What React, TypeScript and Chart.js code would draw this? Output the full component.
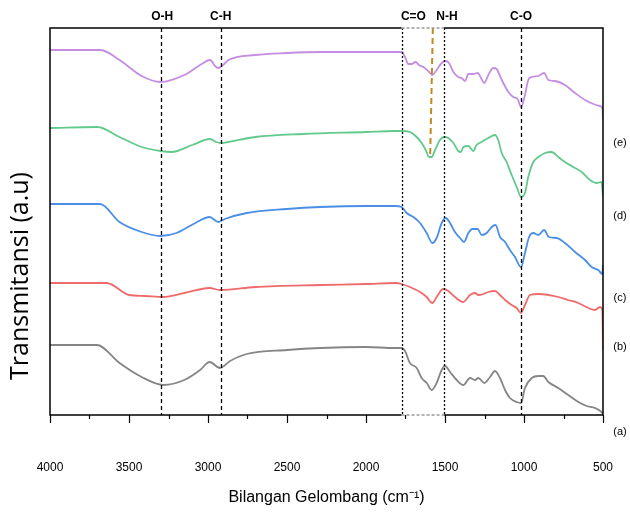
import React, { useEffect, useRef } from "react";
import { Chart, registerables } from "chart.js";

Chart.register(...registerables);

// ---- data (wavenumber cm^-1, transmittance a.u.) ----
const wnE = [4000, 3680, 3560, 3420, 3300, 3150, 3050, 2987, 2955, 2935, 2905, 2870, 2700, 2500, 2290, 2000, 1817, 1774, 1753, 1732, 1711, 1686, 1665, 1637, 1606, 1580, 1553, 1521, 1496, 1475, 1447, 1416, 1395, 1373, 1352, 1321, 1293, 1272, 1251, 1226, 1194, 1173, 1152, 1131, 1099, 1068, 1040, 1019, 994, 973, 951, 909, 873, 846, 804, 741, 677, 614, 561, 519, 504, 500];
const tE = [365, 365, 355, 339, 333, 340, 350, 355, 349, 347, 350, 355, 360, 362, 363, 363, 363, 363, 358, 351, 351, 353, 350, 348, 344, 340, 345, 352, 354, 352, 343, 338, 337, 334, 341, 341, 342, 337, 332, 340, 347, 346, 339, 332, 323, 318, 316, 308, 320, 335, 338, 339, 342, 335, 334, 330, 322, 315, 311, 309, 307, 295];

const wnD = [4000, 3700, 3560, 3420, 3300, 3230, 3100, 2987, 2950, 2913, 2873, 2700, 2400, 2000, 1817, 1774, 1722, 1679, 1648, 1622, 1601, 1584, 1563, 1532, 1504, 1479, 1447, 1416, 1399, 1384, 1352, 1321, 1300, 1268, 1226, 1184, 1163, 1141, 1110, 1078, 1046, 1019, 994, 973, 941, 909, 867, 825, 783, 741, 688, 635, 582, 540, 509, 500];
const tD = [287, 288, 278, 268, 264, 263, 270, 276, 273, 272, 273, 278, 281, 283, 284, 284, 283, 278, 272, 265, 258, 258, 265, 275, 278, 277, 272, 264, 263, 268, 269, 264, 270, 273, 277, 280, 275, 262, 253, 240, 228, 218, 222, 238, 253, 258, 262, 263, 258, 253, 248, 243, 235, 232, 233, 218];

const wnC = [4000, 3683, 3560, 3420, 3300, 3200, 3080, 2990, 2935, 2893, 2755, 2500, 2290, 2000, 1817, 1774, 1743, 1700, 1658, 1616, 1580, 1553, 1521, 1496, 1468, 1437, 1405, 1380, 1352, 1327, 1293, 1268, 1236, 1205, 1180, 1152, 1120, 1089, 1057, 1019, 994, 968, 941, 909, 873, 842, 793, 741, 677, 614, 572, 530, 504, 500];
const tC = [211, 211, 193, 183, 179, 182, 192, 198, 193, 196, 202, 206, 208, 209, 209, 208, 202, 198, 192, 182, 172, 177, 192, 197, 192, 183, 177, 173, 182, 186, 186, 180, 182, 188, 190, 178, 173, 165, 158, 148, 162, 178, 182, 180, 185, 178, 177, 172, 163, 155, 148, 145, 141, 150];

const wnB = [4000, 3641, 3500, 3400, 3284, 3150, 2990, 2924, 2700, 2290, 2000, 1817, 1774, 1722, 1658, 1616, 1580, 1553, 1511, 1479, 1437, 1384, 1342, 1310, 1289, 1258, 1226, 1184, 1152, 1120, 1078, 1046, 1019, 994, 962, 909, 846, 783, 720, 656, 593, 551, 519, 504, 500];
const tB = [132, 132, 120, 119, 118, 122, 127, 125, 128, 130, 131, 132, 131, 128, 123, 118, 112, 118, 126, 124, 118, 113, 120, 122, 120, 121, 123, 124, 120, 115, 110, 107, 102, 110, 120, 121, 120, 118, 115, 112, 107, 105, 108, 105, 65];

const wnA = [4000, 3704, 3560, 3420, 3283, 3150, 3050, 2990, 2924, 2860, 2755, 2500, 2290, 2000, 1817, 1774, 1753, 1722, 1679, 1648, 1616, 1584, 1553, 1521, 1500, 1468, 1426, 1384, 1342, 1310, 1289, 1251, 1215, 1184, 1152, 1120, 1089, 1046, 1019, 994, 951, 909, 878, 846, 783, 720, 656, 603, 551, 509, 500];
const tA = [70, 70, 52, 38, 30, 35, 45, 53, 47, 54, 61, 65, 67, 68, 67, 67, 64, 52, 47, 37, 32, 25, 32, 45, 49, 43, 35, 30, 37, 35, 37, 32, 38, 44, 37, 25, 17, 13, 12, 27, 37, 39, 39, 33, 27, 20, 13, 9, 7, 3, 1];

const seriesNames = ["(a)", "(b)", "(c)", "(d)", "(e)"];
const seriesColors = ["#858585", "#EF6B6B", "#4A8EE6", "#62C98C", "#C48DE2"];
const sideLabelLevels = [-17, 68, 117, 199, 272];

const xTickValues = [4000, 3500, 3000, 2500, 2000, 1500, 1000, 500];
const bandNames = ["O-H", "C-H", "C=O", "N-H", "C-O"];
const bandLines = [3300, 2920, 1775, 1506, 1019];
const bandDashes = [[4, 3], [4, 3], [2, 2], [2, 2], [4, 3]];
const bandLabelAt = [3290, 2920, 1700, 1488, 1019];
const shiftLine = [1577, 1594];
const shiftLevel = 258;

const yTitle = "Transmitansi (a.u)";
const xTitle = "Bilangan Gelombang (cm\u207B\u00B9)";

const overlay = {
  id: "overlay",
  afterDatasetsDraw(chart: any) {
    const { ctx, chartArea, scales } = chart;
    const { left, right, top, bottom } = chartArea;
    const x = scales.x;
    const y = scales.y;
    ctx.save();
    // band lines
    ctx.strokeStyle = "#000";
    ctx.lineWidth = 1.3;
    bandLines.forEach((wn, i) => {
      const px = Math.round(x.getPixelForValue(wn)) + 0.5;
      ctx.setLineDash(bandDashes[i]);
      ctx.beginPath();
      ctx.moveTo(px, top);
      ctx.lineTo(px, bottom);
      ctx.stroke();
    });
    // shift line
    ctx.strokeStyle = "#C08A1E";
    ctx.lineWidth = 2;
    ctx.setLineDash([6, 4]);
    ctx.beginPath();
    ctx.moveTo(x.getPixelForValue(shiftLine[0]), top);
    ctx.lineTo(x.getPixelForValue(shiftLine[1]), y.getPixelForValue(shiftLevel));
    ctx.stroke();

    // frame
    const xa = x.getPixelForValue(bandLines[2]);
    const xb = x.getPixelForValue(bandLines[3]);
    ctx.setLineDash([]);
    ctx.strokeStyle = "#000";
    ctx.lineWidth = 1.5;
    ctx.beginPath();
    ctx.moveTo(left, top);
    ctx.lineTo(left, bottom);
    ctx.moveTo(right, top);
    ctx.lineTo(right, bottom);
    [top, bottom].forEach((yy) => {
      ctx.moveTo(left - 0.75, yy);
      ctx.lineTo(xa, yy);
      ctx.moveTo(xb, yy);
      ctx.lineTo(right + 0.75, yy);
    });
    ctx.stroke();
    ctx.strokeStyle = "#999";
    ctx.setLineDash([3, 2]);
    ctx.beginPath();
    [top, bottom].forEach((yy) => {
      ctx.moveTo(xa, yy);
      ctx.lineTo(xb, yy);
    });
    ctx.stroke();
    ctx.setLineDash([]);

    // minor ticks
    ctx.strokeStyle = "#000";
    ctx.lineWidth = 1.2;
    ctx.beginPath();
    x.ticks.forEach((t: any) => {
      if (t.value % 500 !== 0) {
        const px = Math.round(x.getPixelForValue(t.value)) + 0.5;
        ctx.moveTo(px, bottom);
        ctx.lineTo(px, bottom + 4);
      }
    });
    ctx.stroke();

    // band labels
    ctx.fillStyle = "#000";
    ctx.font = "bold 12px 'Liberation Sans', Arial, sans-serif";
    ctx.textAlign = "center";
    ctx.textBaseline = "middle";
    bandNames.forEach((n, i) => {
      ctx.fillText(n, x.getPixelForValue(bandLabelAt[i]), top - 11);
    });

    // series labels on right
    ctx.font = "11px 'Liberation Sans', Arial, sans-serif";
    seriesNames.forEach((n, i) => {
      ctx.fillText(n, right + 17, y.getPixelForValue(sideLabelLevels[i]));
    });

    // y title
    ctx.font = "25px 'Open Sans', 'Noto Sans', sans-serif";
    ctx.translate(21, 276);
    ctx.rotate(-Math.PI / 2);
    ctx.fillText(yTitle, 0, 0);
    ctx.restore();
  },
};

const allWn = [wnA, wnB, wnC, wnD, wnE];
const allT = [tA, tB, tC, tD, tE];

export default function App() {
  const ref = useRef<HTMLCanvasElement | null>(null);
  useEffect(() => {
    if (!ref.current) return;
    const chart = new Chart(ref.current, {
      type: "line",
      data: {
        datasets: allWn.map((wn, i) => ({
          label: seriesNames[i],
          data: wn.map((w, j) => ({ x: w, y: allT[i][j] })),
          borderColor: seriesColors[i],
          borderWidth: 1.8,
          pointRadius: 0,
          fill: false,
          cubicInterpolationMode: "monotone" as const,
        })),
      },
      options: {
        animation: false,
        responsive: false,
        maintainAspectRatio: false,
        layout: { padding: { left: 0, right: 27, top: 28, bottom: 0 } },
        plugins: { legend: { display: false }, tooltip: { enabled: false } },
        scales: {
          x: {
            type: "linear",
            min: 500,
            max: 4000,
            reverse: true,
            afterFit: (s: any) => {
              s.height = 97;
            },
            afterBuildTicks: (s: any) => {
              const t = [];
              for (let v = 500; v <= 4000; v += 250) t.push({ value: v });
              s.ticks = t;
            },
            border: { display: false },
            grid: {
              display: true,
              drawOnChartArea: false,
              drawTicks: true,
              tickLength: 8,
              tickWidth: 1.2,
              tickColor: (c: any) => (c.tick && c.tick.value % 500 === 0 ? "#000" : "rgba(0,0,0,0)"),
            },
            ticks: {
              autoSkip: false,
              maxRotation: 0,
              padding: 37,
              color: "#000",
              font: { family: "'Liberation Sans', Arial, sans-serif", size: 12 },
              callback: (v: any) => (xTickValues.includes(Number(v)) ? String(v) : ""),
            },
            title: {
              display: true,
              text: xTitle,
              color: "#000",
              font: { family: "'Liberation Sans', Arial, sans-serif", size: 16 },
              padding: { top: 0, bottom: 5 },
            },
          },
          y: {
            type: "linear",
            min: 0,
            max: 387,
            afterFit: (s: any) => {
              s.width = 50;
            },
            border: { display: false },
            grid: { display: false },
            ticks: { display: false },
          },
        },
      },
      plugins: [overlay],
    });
    return () => chart.destroy();
  }, []);
  return (
    <div style={{ position: "fixed", left: 0, top: 0, width: 630, height: 512, background: "#fff" }}>
      <canvas ref={ref} width={630} height={512} style={{ width: 630, height: 512 }} />
    </div>
  );
}
